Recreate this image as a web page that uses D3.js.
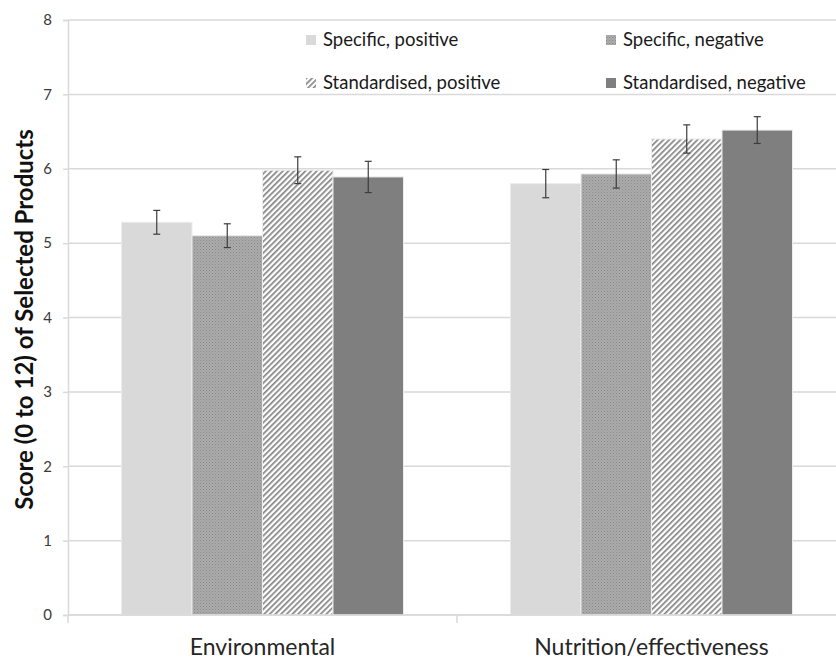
<!DOCTYPE html>
<html>
<head>
<meta charset="utf-8">
<script src="https://cdn.jsdelivr.net/npm/d3@7"></script>
<style>
  html, body { margin: 0; padding: 0; background: #fff; }
  svg { display: block; }
  text { font-family: Lato, "Open Sans", sans-serif; }
</style>
</head>
<body>
<script>
// ---- data ----
const categories = ["Environmental", "Nutrition/effectiveness"];
const seriesNames = ["Specific, positive", "Specific, negative", "Standardised, positive", "Standardised, negative"];
const specificPositive     = [5.28, 5.80];
const specificNegative     = [5.10, 5.93];
const standardisedPositive = [5.98, 6.40];
const standardisedNegative = [5.89, 6.52];
const errSpecificPositive     = [0.16, 0.19];
const errSpecificNegative     = [0.16, 0.19];
const errStandardisedPositive = [0.18, 0.19];
const errStandardisedNegative = [0.21, 0.18];
const yTicks = [0, 1, 2, 3, 4, 5, 6, 7, 8];
const yTitle = "Score (0 to 12) of Selected Products";

const seriesValues = [specificPositive, specificNegative, standardisedPositive, standardisedNegative];
const seriesErrors = [errSpecificPositive, errSpecificNegative, errStandardisedPositive, errStandardisedNegative];

// ---- layout ----
const W = 836, H = 660;
const plot = { left: 68, right: 846, top: 20, bottom: 615 };

const svg = d3.select("body").append("svg").attr("width", W).attr("height", H);

// patterns
const defs = svg.append("defs");
const dots = defs.append("pattern").attr("id", "pDots").attr("patternUnits", "userSpaceOnUse")
  .attr("width", 3).attr("height", 3);
dots.append("rect").attr("width", 3).attr("height", 3).attr("fill", "#ababab");
dots.append("rect").attr("x", 0).attr("y", 0).attr("width", 1).attr("height", 1).attr("fill", "#8a8a8a");
dots.append("rect").attr("x", 1.5).attr("y", 1.5).attr("width", 1).attr("height", 1).attr("fill", "#939393");

const hatch = defs.append("pattern").attr("id", "pHatch").attr("patternUnits", "userSpaceOnUse")
  .attr("width", 4).attr("height", 4).attr("patternTransform", "rotate(45)");
hatch.append("rect").attr("width", 4).attr("height", 4).attr("fill", "#ffffff");
hatch.append("rect").attr("x", 0).attr("y", 0).attr("width", 1.7).attr("height", 4).attr("fill", "#858585");

const fills = ["#d9d9d9", "url(#pDots)", "url(#pHatch)", "#7f7f7f"];

// scales
const y = d3.scaleLinear().domain([0, 8]).range([plot.bottom, plot.top]);
const x0 = d3.scaleBand().domain(categories).range([plot.left, plot.right]).paddingInner(0).paddingOuter(0);
const groupPad = 53.5 / x0.bandwidth();
const x1 = d3.scaleBand().domain(seriesNames)
  .range([x0.bandwidth() * groupPad, x0.bandwidth() * (1 - groupPad)])
  .paddingInner(0).paddingOuter(0);

// gridlines
svg.append("g").selectAll("line").data(yTicks).join("line")
  .attr("x1", plot.left).attr("x2", plot.right)
  .attr("y1", d => y(d)).attr("y2", d => y(d))
  .attr("stroke", "#d9d9d9").attr("stroke-width", 1.5);

// y axis
const yAxis = svg.append("g").attr("transform", `translate(${plot.left},0)`)
  .call(d3.axisLeft(y).tickValues(yTicks).tickSize(5).tickPadding(11).tickFormat(d3.format("d")));
yAxis.select(".domain").attr("stroke", "#d9d9d9").attr("stroke-width", 1.5);
yAxis.selectAll(".tick line").attr("stroke", "#d9d9d9").attr("stroke-width", 1.5);
yAxis.selectAll(".tick text").attr("fill", "#3a3a3a").style("font-size", "15px").style("font-family", "Lato, sans-serif");

// bars
const groups = svg.append("g").selectAll("g").data(categories).join("g")
  .attr("transform", d => `translate(${x0(d)},0)`);

const barData = (c, ci) => seriesNames.map((s, si) => ({ s, si, v: seriesValues[si][ci], e: seriesErrors[si][ci] }));

groups.selectAll("rect").data(barData)
  .join("rect")
  .attr("x", d => x1(d.s)).attr("width", x1.bandwidth())
  .attr("y", d => y(d.v)).attr("height", d => y(0) - y(d.v))
  .attr("fill", d => fills[d.si])
  .attr("stroke", "#ececec").attr("stroke-width", 1);

// error bars
const eb = groups.selectAll("g.err").data(barData)
  .join("g").attr("class", "err")
  .attr("transform", d => `translate(${x1(d.s) + x1.bandwidth() / 2},0)`);
eb.append("line").attr("x1", 0).attr("x2", 0)
  .attr("y1", d => y(d.v + d.e)).attr("y2", d => y(d.v - d.e))
  .attr("stroke", "#3c3c3c").attr("stroke-width", 1.2);
eb.append("line").attr("x1", -3.5).attr("x2", 3.5)
  .attr("y1", d => y(d.v + d.e)).attr("y2", d => y(d.v + d.e))
  .attr("stroke", "#3c3c3c").attr("stroke-width", 1.2);
eb.append("line").attr("x1", -3.5).attr("x2", 3.5)
  .attr("y1", d => y(d.v - d.e)).attr("y2", d => y(d.v - d.e))
  .attr("stroke", "#3c3c3c").attr("stroke-width", 1.2);

// x axis line (baseline)
svg.append("line").attr("x1", plot.left).attr("x2", plot.right)
  .attr("y1", y(0)).attr("y2", y(0)).attr("stroke", "#d9d9d9").attr("stroke-width", 1.5);

// category boundary ticks
const bounds = categories.map(c => x0(c)).concat([x0(categories[categories.length - 1]) + x0.bandwidth()]);
svg.append("g").selectAll("line").data(bounds).join("line")
  .attr("x1", d => d).attr("x2", d => d)
  .attr("y1", y(0)).attr("y2", y(0) + 8)
  .attr("stroke", "#d9d9d9").attr("stroke-width", 1.5);

// category labels
const xAxis = svg.append("g").attr("transform", `translate(0,${y(0)})`)
  .call(d3.axisBottom(x0).tickSize(0).tickPadding(24));
xAxis.select(".domain").remove();
xAxis.selectAll(".tick text").attr("fill", "#262626").style("font-size", "23px").style("font-family", "Lato, sans-serif");

// y title
svg.append("text")
  .attr("transform", `translate(33,${(plot.top + plot.bottom) / 2 + 2}) rotate(-90)`)
  .attr("text-anchor", "middle")
  .attr("fill", "#111")
  .style("font-size", "24px").style("font-weight", "bold")
  .text(yTitle);

// legend
const legendPos = [
  { x: 306, y: 40 }, { x: 606, y: 40 },
  { x: 306, y: 83 }, { x: 606, y: 83 }
];
const lg = svg.append("g").selectAll("g").data(seriesNames).join("g")
  .attr("transform", (d, i) => `translate(${legendPos[i].x},${legendPos[i].y})`);
lg.append("rect").attr("x", 0).attr("y", -5).attr("width", 10).attr("height", 10)
  .attr("fill", (d, i) => fills[i]);
lg.append("text").attr("x", 17).attr("dy", "0.35em").attr("fill", "#1a1a1a")
  .style("font-size", "18.5px").text(d => d);
</script>
</body>
</html>
